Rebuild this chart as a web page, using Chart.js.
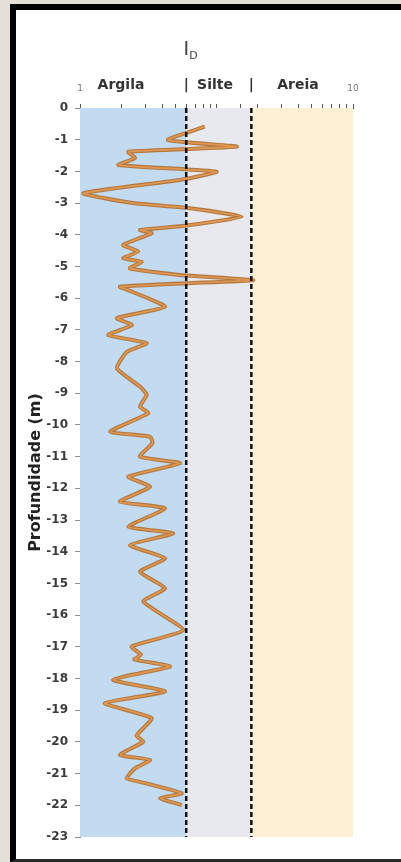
<!DOCTYPE html>
<html>
<head>
<meta charset="utf-8">
<script src="https://cdn.jsdelivr.net/npm/chart.js@4.4.1/dist/chart.umd.min.js"></script>
<style>
  html,body{margin:0;padding:0;background:#e5e0d7;width:401px;height:862px;overflow:hidden;}
  #frame{position:absolute;left:10px;top:4px;width:391px;height:858px;background:#fff;
    border-left:6px solid #000;border-top:6px solid #000;border-bottom:3px solid #2a2a2a;box-sizing:border-box;}
  #c{position:absolute;left:0;top:0;}
</style>
</head>
<body>
<div id="frame"></div>
<canvas id="c" width="401" height="862"></canvas>
<script>
// ---- data ----
const depthValues = [-0.59,-1.01,-1.22,-1.38,-1.58,-1.80,-2.01,-2.27,-2.69,-3.00,-3.15,-3.43,-3.71,-3.85,-3.95,
  -4.32,-4.53,-4.74,-4.85,-5.06,-5.27,-5.43,-5.53,-5.64,-5.79,-6.27,-6.63,-6.85,-7.16,-7.42,-7.70,-8.21,-8.79,
  -9.05,-9.42,-9.63,-10.21,-10.37,-10.57,-11.00,-11.21,-11.63,-11.95,-12.42,-12.63,-13.21,-13.42,-13.79,-14.21,
  -14.63,-15.15,-15.57,-16.47,-16.99,-17.25,-17.40,-17.62,-18.04,-18.41,-18.78,-19.25,-19.80,-20.00,-20.41,
  -20.57,-20.85,-21.15,-21.30,-21.62,-21.78,-21.99];
const idValues = [0.82,0.44,1.41,0.226,0.253,0.191,1.00,0.54,0.106,0.245,0.60,1.53,0.60,0.275,0.335,
  0.207,0.267,0.207,0.283,0.232,0.54,1.86,0.60,0.196,0.239,0.42,0.186,0.24,0.161,0.308,0.22,0.186,0.275,
  0.308,0.275,0.316,0.166,0.326,0.34,0.275,0.54,0.226,0.326,0.196,0.42,0.226,0.483,0.232,0.42,
  0.275,0.42,0.291,0.57,0.239,0.28,0.25,0.456,0.175,0.42,0.152,0.335,0.26,0.29,0.196,
  0.326,0.25,0.22,0.30,0.556,0.386,0.556];
const zoneNames = ['Argila','Silte','Areia'];
const zoneBounds = [0.1, 0.6, 1.8, 10];
const zoneColors = ['#c3dbf1','#e7e9ee','#fdf0d5'];
const depthMin = -23, depthMax = 0;
const xTickValues = [0.1, 10];
const xTickLabels = ['1', '10'];
const yAxisTitle = 'Profundidade (m)';

const profile = depthValues.map((d,i)=>({x:idValues[i], y:d}));
const limitLine = v => [{x:v,y:depthMax},{x:v,y:depthMin}];

const zonesPlugin = {
  id:'zones',
  beforeDatasetsDraw(chart){
    const {ctx, scales:{x,y}} = chart;
    ctx.save();
    for(let i=0;i<zoneNames.length;i++){
      const x0 = x.getPixelForValue(zoneBounds[i]), x1 = x.getPixelForValue(zoneBounds[i+1]);
      const y0 = y.getPixelForValue(depthMax), y1 = y.getPixelForValue(depthMin);
      ctx.fillStyle = zoneColors[i];
      ctx.fillRect(x0, y0, x1-x0, y1-y0);
    }
    ctx.restore();
  },
  afterDraw(chart){
    const {ctx, scales:{x,y}, chartArea:ca} = chart;
    ctx.save();
    // axis title I_D
    const xt = x.getPixelForValue(zoneBounds[1]);
    ctx.fillStyle = '#444';
    ctx.font = '19px "DejaVu Sans"';
    ctx.textAlign = 'center'; ctx.textBaseline = 'alphabetic';
    ctx.fillText('I', xt, 55);
    ctx.font = '11px "DejaVu Sans"';
    ctx.textAlign = 'left';
    ctx.fillText('D', xt+3, 59);
    // zone labels
    ctx.fillStyle = '#333';
    ctx.font = 'bold 14px "DejaVu Sans"';
    ctx.textAlign = 'center';
    const centers = [121, 215, 298];
    zoneNames.forEach((n,i)=>ctx.fillText(n, centers[i], 89));
    ctx.fillText('|', x.getPixelForValue(zoneBounds[1]), 89);
    ctx.fillText('|', x.getPixelForValue(zoneBounds[2]), 89);
    // y title
    ctx.translate(36, (ca.top+ca.bottom)/2);
    ctx.rotate(-Math.PI/2);
    ctx.font = 'bold 16px "DejaVu Sans"';
    ctx.fillStyle = '#222';
    ctx.textBaseline = 'middle';
    ctx.textAlign = 'center';
    ctx.fillText(yAxisTitle, 0, 0);
    ctx.restore();
  }
};

new Chart(document.getElementById('c'), {
  type:'scatter',
  data:{datasets:[
    {data: limitLine(zoneBounds[1]), showLine:true, borderColor:'#111', borderWidth:2.5, borderDash:[5,3], pointRadius:0},
    {data: limitLine(zoneBounds[2]), showLine:true, borderColor:'#111', borderWidth:2.5, borderDash:[5,3], pointRadius:0},
    {data: profile, showLine:true, borderColor:'#dc9753', borderWidth:1.8, pointRadius:0, tension:0.15},
    {data: profile, showLine:true, borderColor:'#b3773f', borderWidth:4, pointRadius:0, tension:0.15}
  ]},
  options:{
    responsive:false, animation:false, devicePixelRatio:1,
    layout:{padding:{left:20,right:48,top:60,bottom:25}},
    plugins:{legend:{display:false}, tooltip:{enabled:false}},
    scales:{
      x:{type:'logarithmic', position:'top', min:zoneBounds[0], max:zoneBounds[3],
        afterFit(s){ s.height = 48; },
        border:{color:'#333', width:1},
        grid:{drawOnChartArea:false, drawTicks:true, tickLength:4, color:'#555'},
        ticks:{autoSkip:false, maxRotation:0, padding:10, color:'#777',
          font:{family:'DejaVu Sans', size:9},
          callback(v){
            const k = xTickValues.findIndex(t=>Math.abs(Math.log10(t)-Math.log10(v))<1e-6);
            return k>=0 ? xTickLabels[k] : '';
          }}
      },
      y:{type:'linear', min:depthMin, max:depthMax,
        afterFit(s){ s.width = 60; },
        border:{color:'#8292a4', width:1},
        grid:{drawOnChartArea:false, drawTicks:true, tickLength:5, color:'#8292a4'},
        ticks:{stepSize:1, autoSkip:false, padding:7, color:'#3c3c3c',
          font:{family:'DejaVu Sans', size:12, weight:'bold'}}
      }
    }
  },
  plugins:[zonesPlugin]
});
</script>
</body>
</html>
